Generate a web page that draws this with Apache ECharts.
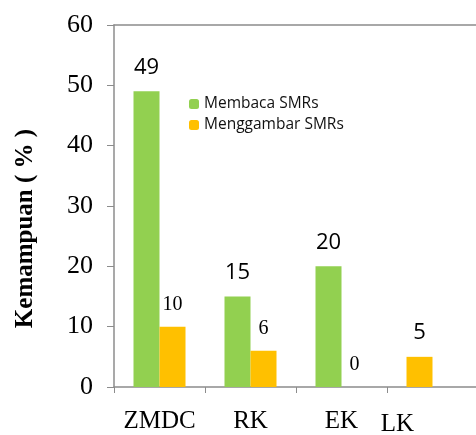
<!DOCTYPE html>
<html>
<head>
<meta charset="utf-8">
<script src="https://cdn.jsdelivr.net/npm/echarts@6/dist/echarts.min.js"></script>
<style>
  html, body { margin: 0; padding: 0; background: #fff; }
  #chart { width: 476px; height: 435px; }
</style>
</head>
<body>
<div id="chart"></div>
<script>
const categories = ['ZMDC', 'RK', 'EK', 'LK'];
const membaca = [49, 15, 20, null];
const menggambar = [10, 6, 0, 5];
const yTicks = [0, 10, 20, 30, 40, 50, 60];

const GREEN = '#92D050';
const ORANGE = '#FFC000';
const AXIS = '#8c8c8c';

// in the picture the lone LK bar sits in the first slot, so move it there
const firstSlot = membaca.map((v, i) => {
  if (v == null && menggambar[i] != null) {
    return { value: menggambar[i], itemStyle: { color: ORANGE } };
  }
  return v;
});
const secondSlot = menggambar.map((v, i) => (membaca[i] == null ? null : v));

const chart = echarts.init(document.getElementById('chart'));
chart.setOption({
  animation: false,
  grid: { left: 114, right: -2, top: 25, bottom: 48, outerBoundsMode: 'none', containLabel: false },
  legend: {
    orient: 'vertical',
    left: 184,
    top: 91,
    itemWidth: 10,
    itemHeight: 10,
    itemGap: 5,
    icon: 'roundRect',
    textStyle: { fontFamily: 'Open Sans', fontSize: 15.5, color: '#111' },
    data: [
      { name: 'Membaca SMRs', itemStyle: { color: GREEN } },
      { name: 'Menggambar SMRs', itemStyle: { color: ORANGE } }
    ]
  },
  xAxis: [
    {
      type: 'category',
      data: categories,
      axisLine: { lineStyle: { color: AXIS, width: 1.5 } },
      axisTick: { show: true, length: 6, lineStyle: { color: AXIS } },
      axisLabel: {
        interval: 0,
        margin: 21,
        color: '#000',
        fontFamily: 'Liberation Serif',
        fontSize: 25,
        lineHeight: 26,
        formatter: v => (v === 'LK' ? '{lk|' + v + '}' : v),
        rich: {
          lk: {
            fontFamily: 'Liberation Serif',
            fontSize: 25,
            lineHeight: 26,
            color: '#000',
            padding: [6, 70, 0, 0]
          }
        }
      }
    },
    {
      type: 'category',
      position: 'top',
      data: categories,
      axisLine: { show: true, lineStyle: { color: AXIS, width: 1.5 } },
      axisTick: { show: false },
      axisLabel: { show: false }
    }
  ],
  yAxis: {
    type: 'value',
    min: yTicks[0],
    max: yTicks[yTicks.length - 1],
    interval: 10,
    name: 'Kemampuan ( % )',
    nameLocation: 'middle',
    nameGap: 76,
    nameTextStyle: {
      fontFamily: 'Liberation Serif',
      fontSize: 25,
      fontWeight: 'bold',
      color: '#000',
      padding: [0, 0, 0, -45]
    },
    axisLine: { show: true, lineStyle: { color: AXIS, width: 1.5 } },
    axisTick: { show: true, length: 7, lineStyle: { color: AXIS } },
    splitLine: { show: false },
    axisLabel: {
      margin: 21,
      color: '#000',
      fontFamily: 'Liberation Serif',
      fontSize: 26
    }
  },
  series: [
    {
      name: 'Membaca SMRs',
      type: 'bar',
      barWidth: 26,
      barGap: '0%',
      itemStyle: { color: GREEN },
      data: firstSlot,
      label: {
        show: true,
        position: 'top',
        distance: 13,
        color: '#000',
        fontFamily: 'Open Sans',
        fontSize: 22
      }
    },
    {
      name: 'Menggambar SMRs',
      type: 'bar',
      barWidth: 26,
      itemStyle: { color: ORANGE },
      data: secondSlot,
      label: {
        show: true,
        position: 'top',
        distance: 12,
        color: '#000',
        fontFamily: 'Liberation Serif',
        fontSize: 20
      }
    }
  ]
});
</script>
</body>
</html>
